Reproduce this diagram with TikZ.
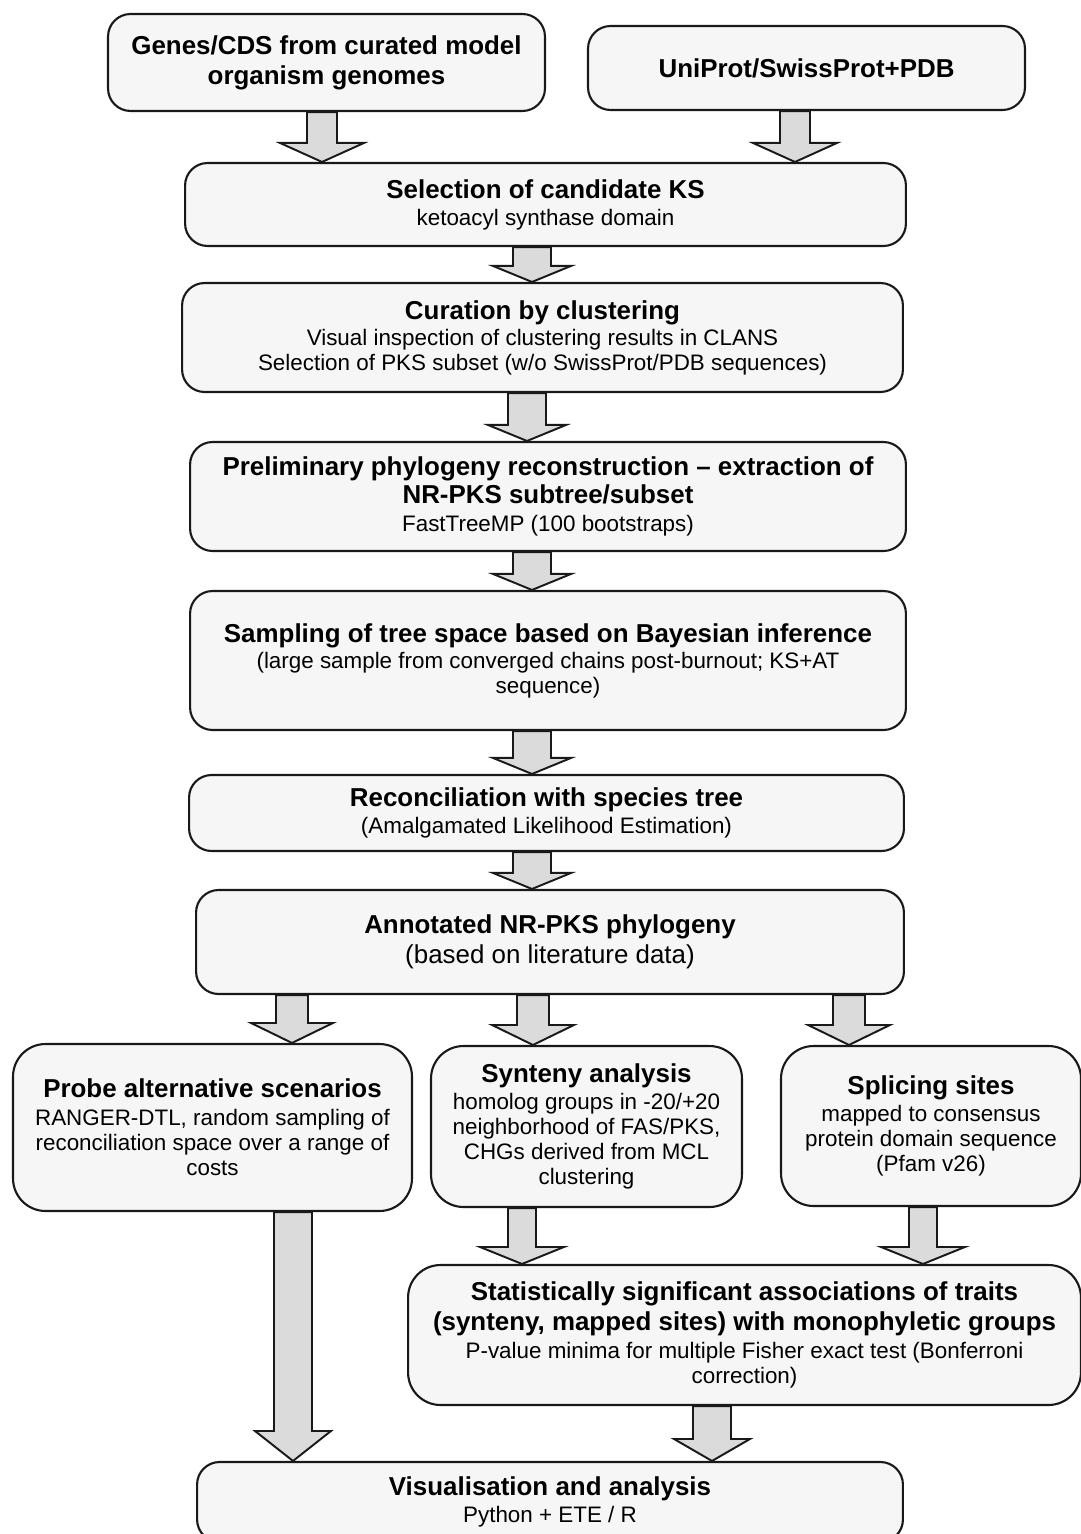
\documentclass[tikz,border=0pt]{standalone}
\usepackage{fontspec}
\setmainfont{Liberation Sans}
\usetikzlibrary{calc}

\definecolor{boxfill}{gray}{0.965}
\definecolor{arrowfill}{gray}{0.86}
\definecolor{edge}{gray}{0.1}

\newcommand{\headtxt}{\fontsize{14.75}{17}\selectfont\bfseries}
\newcommand{\bodytxt}{\fontsize{12.75}{14.2}\selectfont}
\newcommand{\bigtxt}{\fontsize{14.75}{17}\selectfont}

% block arrow: from node, to node, x (px), shaft half width, head half width, head length
\newcommand{\blockarrow}[6]{
	\coordinate (ax) at (#3,0);
	\coordinate (fa-s) at (#1.south -| ax);
	\coordinate (fa-e) at (#2.north -| ax);
	\draw[fatarrow] ($(fa-s)+(-#4,0)$) -- ($(fa-s)+(#4,0)$) -- ($(fa-e)+(#4,-#6)$) -- ($(fa-e)+(#5,-#6)$)
		-- (fa-e) -- ($(fa-e)+(-#5,-#6)$) -- ($(fa-e)+(-#4,-#6)$) -- cycle;
}

\tikzset{
	box/.style={draw=edge, line width=1.2pt, fill=boxfill, rounded corners=0.45cm, align=center, inner sep=0pt, font=\bodytxt},
	bigbox/.style={box, rounded corners=0.65cm},
	fatarrow/.style={draw=edge, line width=1.1pt, fill=arrowfill, line join=miter},
}

\begin{document}
\begin{tikzpicture}[x=0.02cm, y=-0.02cm, thick]
	\useasboundingbox (0,0) rectangle (1080,1534);
	\fill[white] (0,0) rectangle (1080,1534);
	
	%sources
	\node[box, minimum width=8.74cm, minimum height=1.94cm, font=\headtxt] (genes) at (326.5,62.5) {Genes/CDS from curated model\\organism genomes};
	\node[box, minimum width=8.74cm, minimum height=1.68cm, font=\headtxt] (uni) at (806.5,68) {UniProt/SwissProt+PDB};
	
	%main chain
	\node[box, minimum width=14.42cm, minimum height=1.66cm] (ks) at (545.5,204.5)
		{{\headtxt Selection of candidate KS}\\[1.1pt] ketoacyl synthase domain};
	\node[box, minimum width=14.42cm, minimum height=2.18cm] (cur) at (542.5,337.5)
		{{\headtxt Curation by clustering}\\[0.6pt] Visual inspection of clustering results in CLANS\\ Selection of PKS subset (w/o SwissProt/PDB sequences)};
	\node[box, minimum width=14.32cm, minimum height=2.18cm] (pre) at (548,496.5)
		{{\headtxt Preliminary phylogeny reconstruction -- extraction of}\\[1.7pt] {\headtxt NR-PKS subtree/subset}\\[1.7pt] FastTreeMP (100 bootstraps)};
	\node[box, minimum width=14.32cm, minimum height=2.78cm] (samp) at (548,660.5)
		{{\headtxt Sampling of tree space based on Bayesian inference}\\[0.6pt] (large sample from converged chains post-burnout; KS+AT\\ sequence)};
	\node[box, minimum width=14.30cm, minimum height=1.52cm] (rec) at (546.5,813)
		{{\headtxt Reconciliation with species tree}\\[1.1pt] (Amalgamated Likelihood Estimation)};
	\node[box, minimum width=14.16cm, minimum height=2.08cm, font=\bigtxt] (ann) at (550,942)
		{{\bfseries Annotated NR-PKS phylogeny}\\ (based on literature data)};
	
	%three branches
	\node[bigbox, minimum width=7.98cm, minimum height=3.34cm] (probe) at (212.5,1127.5)
		{{\headtxt Probe alternative scenarios}\\[1.7pt] RANGER-DTL, random sampling of\\ reconciliation space over a range of\\ costs};
	\node[bigbox, minimum width=6.22cm, minimum height=3.22cm] (syn) at (586.5,1126.5)
		{{\headtxt Synteny analysis}\\[1.1pt] homolog groups in -20/+20\\ neighborhood of FAS/PKS,\\ CHGs derived from MCL\\ clustering};
	\node[bigbox, minimum width=6.00cm, minimum height=3.20cm] (spl) at (931,1126)
		{{\headtxt Splicing sites}\\[1.1pt] mapped to consensus\\ protein domain sequence\\ (Pfam v26)};
	\node[bigbox, minimum width=13.46cm, minimum height=2.80cm] (stat) at (744.5,1335)
		{{\headtxt Statistically significant associations of traits}\\[2.8pt] {\headtxt (synteny, mapped sites) with monophyletic groups}\\[1.7pt] P-value minima for multiple Fisher exact test (Bonferroni\\ correction)};
	\node[box, minimum width=14.12cm, minimum height=1.60cm] (vis) at (550,1502)
		{{\headtxt Visualisation and analysis}\\[1.1pt] Python + ETE / R};
	
	%arrows
	\blockarrow{genes}{ks}{322}{15}{42}{19}
	\blockarrow{uni}{ks}{795}{15}{42}{19}
	\foreach \a/\b/\x in {ks/cur/532, cur/pre/527, pre/samp/532, samp/rec/532, rec/ann/532}
	{
		\blockarrow{\a}{\b}{\x}{19}{39}{16}
	}
	\foreach \b/\x in {probe/292, syn/533, spl/849}
	{
		\blockarrow{ann}{\b}{\x}{16}{41}{20}
	}
	\blockarrow{syn}{stat}{522}{14}{42}{17}
	\blockarrow{spl}{stat}{923}{14}{42}{17}
	\blockarrow{probe}{vis}{293}{19}{38}{30}
	\blockarrow{stat}{vis}{712}{19}{38}{22}
\end{tikzpicture}
\end{document}
